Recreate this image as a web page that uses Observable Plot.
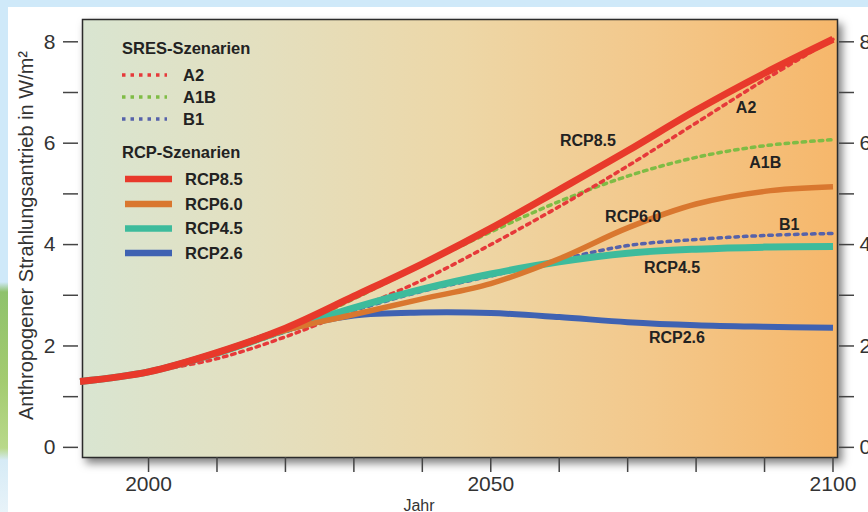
<!DOCTYPE html>
<html><head><meta charset="utf-8">
<script src="https://cdn.jsdelivr.net/npm/d3@7"></script>
<script src="https://cdn.jsdelivr.net/npm/@observablehq/plot@0.6"></script>
<style>
body{margin:0;background:#fff;font-family:"Liberation Sans",Arial,sans-serif;}
#wrap{position:relative;width:868px;height:512px;overflow:hidden;background:#fff;}
#topstrip{position:absolute;left:0;top:0;width:868px;height:7px;background:#cfe9f9;}
#leftstrip{position:absolute;left:0;top:0;width:8px;height:512px;background:linear-gradient(to bottom,#cfe9f9 0px,#cfe9f9 282px,#8fc26c 292px,#a3cb70 380px,#b9d98a 448px,#d6ebf6 460px,#e8f3f9 512px);}
#chart{position:absolute;left:0;top:0;}
</style></head><body>
<div id="wrap"><div id="topstrip"></div><div id="leftstrip"></div><div id="chart"></div></div>
<script>
// ---- data ----
const rcpYears  = [1990, 2000, 2010, 2020, 2030, 2040, 2050, 2060, 2070, 2080, 2090, 2100];
const rcp85 = [1.30, 1.49, 1.87, 2.35, 2.98, 3.62, 4.32, 5.08, 5.85, 6.65, 7.38, 8.05];
const rcp60 = [1.30, 1.49, 1.86, 2.31, 2.62, 2.93, 3.23, 3.72, 4.33, 4.80, 5.05, 5.14];
const rcp45 = [1.30, 1.49, 1.86, 2.32, 2.75, 3.12, 3.42, 3.66, 3.83, 3.91, 3.95, 3.96];
const rcp26 = [1.30, 1.49, 1.86, 2.32, 2.60, 2.66, 2.65, 2.57, 2.47, 2.41, 2.38, 2.36];
const sresYears = [2000, 2010, 2020, 2030, 2040, 2050, 2060, 2070, 2080, 2090, 2100];
const a2  = [1.49, 1.75, 2.18, 2.72, 3.30, 4.00, 4.75, 5.55, 6.40, 7.25, 8.05];
const a1b = [1.49, 1.84, 2.30, 2.93, 3.60, 4.25, 4.85, 5.35, 5.72, 5.95, 6.07];
const b1  = [1.49, 1.84, 2.28, 2.70, 3.08, 3.38, 3.70, 3.98, 4.10, 4.18, 4.22];
const sresNames = ["A2", "A1B", "B1"];
const rcpNames  = ["RCP8.5", "RCP6.0", "RCP4.5", "RCP2.6"];
const xTicks = [2000, 2010, 2020, 2030, 2040, 2050, 2060, 2070, 2080, 2090, 2100];
const xTickLabels = [2000, 2050, 2100];
const yTicks = [0, 1, 2, 3, 4, 5, 6, 7, 8];
const yTickLabels = [0, 2, 4, 6, 8];
// inline curve labels (year, value at label centre)
const labelNames  = ["RCP8.5", "A2", "A1B", "RCP6.0", "B1", "RCP4.5", "RCP2.6"];
const labelYears  = [2064.2, 2087.3, 2090.1, 2070.8, 2093.6, 2076.5, 2077.2];
const labelValues = [6.05, 6.70, 5.61, 4.54, 4.38, 3.54, 2.15];

// ---- styles ----
const colors = {"RCP8.5": "#e8392b", "RCP6.0": "#d9772f", "RCP4.5": "#3dbb9c", "RCP2.6": "#3f62b2",
                "A2": "#e6393a", "A1B": "#7fbc45", "B1": "#5662aa"};
const widths = {"RCP8.5": 7, "RCP6.0": 5.5, "RCP4.5": 7, "RCP2.6": 6};

const toRows = (name, xs, ys) => xs.map((x, i) => ({name, year: x, value: ys[i]}));
const series = {
  "RCP8.5": toRows("RCP8.5", rcpYears, rcp85),
  "RCP6.0": toRows("RCP6.0", rcpYears, rcp60),
  "RCP4.5": toRows("RCP4.5", rcpYears, rcp45),
  "RCP2.6": toRows("RCP2.6", rcpYears, rcp26),
  "A2": toRows("A2", sresYears, a2),
  "A1B": toRows("A1B", sresYears, a1b),
  "B1": toRows("B1", sresYears, b1)
};
const labels = labelNames.map((n, i) => ({name: n, year: labelYears[i], value: labelValues[i]}));

const sresLine = n => Plot.line(series[n], {x: "year", y: "value", stroke: colors[n], strokeWidth: 3.5,
  strokeDasharray: "3.5,5", curve: "catmull-rom"});
const rcpLine = n => Plot.line(series[n], {x: "year", y: "value", stroke: colors[n], strokeWidth: widths[n],
  curve: "catmull-rom", strokeLinecap: "butt"});

const fmt = labs => d => labs.includes(d) ? String(d) : "";

const svg = Plot.plot({
  width: 868, height: 512,
  marginLeft: 82, marginRight: 31, marginTop: 19, marginBottom: 55,
  style: {fontFamily: "'Liberation Sans', Arial, sans-serif", fontSize: "21px", background: "transparent", color: "#333"},
  x: {domain: [1990.35, 2100.66]},
  y: {domain: [-0.2, 8.44]},
  marks: [
    Plot.frame({fill: "#eee", stroke: "#2b2b2b", strokeWidth: 1.5}),
    sresLine("B1"), sresLine("A1B"), sresLine("A2"),
    rcpLine("RCP2.6"), rcpLine("RCP4.5"), rcpLine("RCP6.0"), rcpLine("RCP8.5"),
    Plot.text(labels, {x: "year", y: "value", text: "name", fontWeight: "bold", fontSize: 16, fill: "#222"}),
    Plot.axisX({ticks: xTicks, tickSize: 15, tickPadding: 4, tickFormat: fmt(xTickLabels), label: null,
      stroke: "#444", strokeWidth: 1.5, fill: "#333"}),
    Plot.axisY({ticks: yTicks, tickSize: 15, tickPadding: 8, dx: -4, tickFormat: fmt(yTickLabels), label: null,
      stroke: "#444", strokeWidth: 1.5, fill: "#333"}),
    Plot.axisY({anchor: "right", ticks: yTicks, tickSize: 15, tickPadding: 6, dx: 1, tickFormat: fmt(yTickLabels), label: null,
      stroke: "#444", strokeWidth: 1.5, fill: "#333"}),
    Plot.text(["Anthropogener Strahlungsantrieb in W/m²"], {frameAnchor: "left", textAnchor: "middle", lineAnchor: "middle",
      rotate: -90, dx: -56, dy: -3, fontSize: 20, fill: "#333"}),
    Plot.text(["Jahr"], {frameAnchor: "bottom", textAnchor: "middle", lineAnchor: "middle", dx: -41, dy: 48, fontSize: 16, fill: "#333"})
  ]
});

// background gradient + shadow for the plot frame
const s = d3.select(svg);
const defs = s.insert("defs", ":first-child");
const g = defs.append("linearGradient").attr("id", "bggrad").attr("x1", 0).attr("x2", 1).attr("y1", 0).attr("y2", 0);
[[0, "#d9e5d1"], [0.25, "#e4dfbe"], [0.5, "#edd7a7"], [0.75, "#f3c88b"], [1, "#f6b76b"]]
  .forEach(([o, c]) => g.append("stop").attr("offset", o).attr("stop-color", c));
s.select('[aria-label="frame"]').attr("fill", "url(#bggrad)")
  .style("filter", "drop-shadow(4px 5px 4px rgba(0,0,0,0.5))");
s.select('[aria-label="frame"] rect').attr("fill", "url(#bggrad)");

// legend
const leg = s.append("g").attr("font-family", "'Liberation Sans', Arial, sans-serif")
  .attr("font-weight", "bold").attr("font-size", 16.5).attr("fill", "#222").attr("text-anchor", "start");
const head = (t, y) => leg.append("text").attr("x", 122).attr("y", y).attr("dy", "0.35em").text(t);
head("SRES-Szenarien", 48.5);
const sresY = [75, 97, 119];
sresNames.forEach((n, i) => {
  leg.append("line").attr("x1", 122).attr("x2", 167).attr("y1", sresY[i]).attr("y2", sresY[i])
    .attr("stroke", colors[n]).attr("stroke-width", 3.5).attr("stroke-dasharray", "3.5,5");
  leg.append("text").attr("x", 183).attr("y", sresY[i]).attr("dy", "0.35em").text(n);
});
head("RCP-Szenarien", 152);
const rcpY = [179, 204, 228.5, 253];
rcpNames.forEach((n, i) => {
  leg.append("line").attr("x1", 125).attr("x2", 172).attr("y1", rcpY[i]).attr("y2", rcpY[i])
    .attr("stroke", colors[n]).attr("stroke-width", 6.5);
  leg.append("text").attr("x", 185).attr("y", rcpY[i]).attr("dy", "0.35em").text(n);
});

document.getElementById("chart").append(svg);
</script>
</body></html>
